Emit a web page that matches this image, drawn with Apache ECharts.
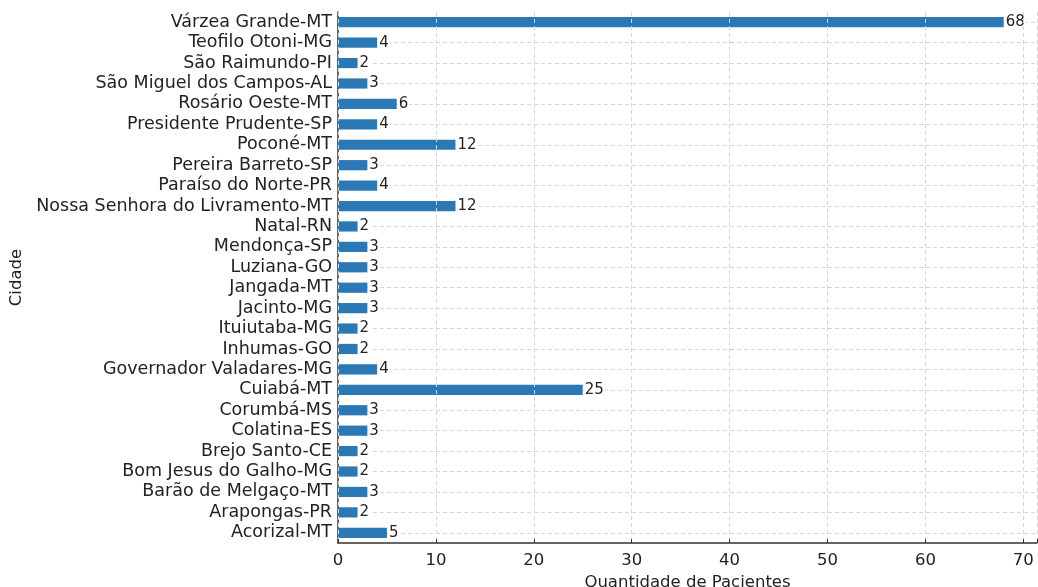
<!DOCTYPE html>
<html>
<head>
<meta charset="utf-8">
<script src="https://cdn.jsdelivr.net/npm/echarts@6/dist/echarts.min.js"></script>
<style>html,body{margin:0;padding:0;background:#fff;}#c{width:1038px;height:587px;}</style>
</head>
<body>
<div id="c"></div>
<script>
// categories listed bottom to top
var categories = [
  'Acorizal-MT','Arapongas-PR','Barão de Melgaço-MT','Bom Jesus do Galho-MG','Brejo Santo-CE',
  'Colatina-ES','Corumbá-MS','Cuiabá-MT','Governador Valadares-MG','Inhumas-GO','Ituiutaba-MG',
  'Jacinto-MG','Jangada-MT','Luziana-GO','Mendonça-SP','Natal-RN','Nossa Senhora do Livramento-MT',
  'Paraíso do Norte-PR','Pereira Barreto-SP','Poconé-MT','Presidente Prudente-SP','Rosário Oeste-MT',
  'São Miguel dos Campos-AL','São Raimundo-PI','Teofilo Otoni-MG','Várzea Grande-MT'
];
var pacientes = [5,2,3,2,2,3,3,25,4,2,2,3,3,3,3,2,12,4,3,12,4,6,3,2,4,68];
var xTicks = [0,10,20,30,40,50,60,70];

var font = 'DejaVu Sans';
var chart = echarts.init(document.getElementById('c'));
chart.setOption({
  animation: false,
  textStyle: {fontFamily: font},
  grid: {left: 338, right: 1, top: 12, bottom: 44, containLabel: false, outerBoundsMode: 'none'},
  xAxis: {
    type: 'value', min: 0, max: 71.4, interval: 10,
    name: 'Quantidade de Pacientes', nameLocation: 'middle', nameGap: 28,
    nameTextStyle: {fontSize: 16.5, color: '#222', fontFamily: font},
    axisLine: {show: true, lineStyle: {color: '#333', width: 1.5}},
    axisTick: {show: true, inside: true, length: 4, lineStyle: {color: '#333'}},
    axisLabel: {fontSize: 16.5, color: '#222', margin: 9, fontFamily: font,
      formatter: function (v) { return xTicks.indexOf(v) >= 0 ? String(v) : ''; }},
    splitLine: {show: true, lineStyle: {color: '#d6d6d6', type: [4, 3], width: 1}},
    z: 5
  },
  yAxis: {
    type: 'category', data: categories,
    name: 'Cidade', nameLocation: 'middle', nameGap: 312, nameRotate: 90,
    nameTextStyle: {fontSize: 16.5, color: '#222', fontFamily: font},
    axisLine: {show: true, lineStyle: {color: '#333', width: 1.5}},
    axisTick: {show: true, inside: true, alignWithLabel: true, length: 4, lineStyle: {color: '#333'}},
    axisLabel: {fontSize: 17.5, color: '#222', margin: 6, interval: 0, fontFamily: font},
    splitLine: {show: false}
  },
  series: [{
    type: 'bar', data: pacientes, barWidth: '50%',
    itemStyle: {color: '#2a78b5'},
    label: {show: true, position: 'right', distance: 1, fontSize: 15, color: '#222', fontFamily: font,
      backgroundColor: '#fff', padding: [0, 1]},
    markLine: {
      silent: true, symbol: ['none', 'none'], label: {show: false}, z: 1,
      lineStyle: {color: '#d6d6d6', type: [4, 3], width: 1},
      data: categories.map(function (c) { return {yAxis: c}; })
    }
  }]
});
</script>
</body>
</html>
